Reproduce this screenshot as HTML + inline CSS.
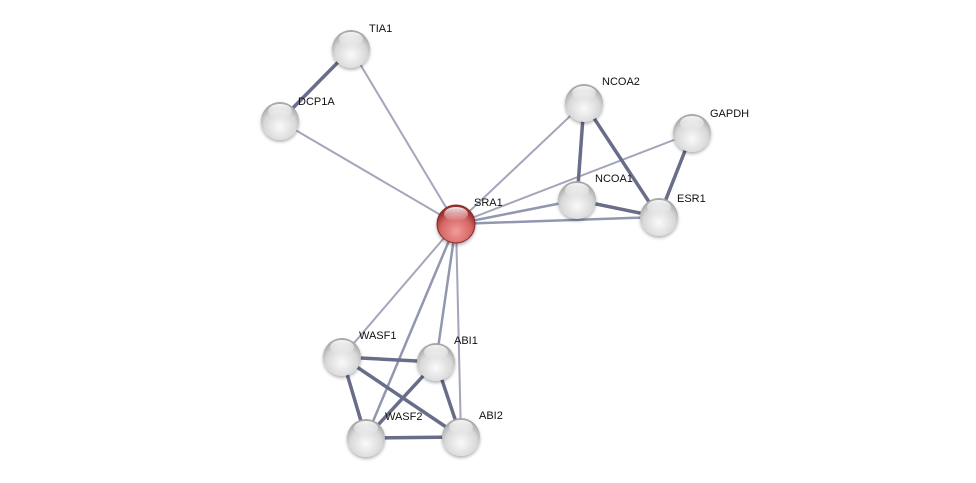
<!DOCTYPE html>
<html><head><meta charset="utf-8"><style>
html,body{margin:0;padding:0;background:#fff;}
svg{display:block;}
text{font-family:"Liberation Sans",sans-serif;font-size:11px;fill:#111;}
</style></head><body>
<svg width="976" height="483" viewBox="0 0 976 483" xmlns="http://www.w3.org/2000/svg">
<defs>
<radialGradient id="g" cx="0.5" cy="0.65" r="0.6">
<stop offset="0" stop-color="#fafafa"/><stop offset="0.7" stop-color="#d8d8d8"/><stop offset="1" stop-color="#a8a8a8"/>
</radialGradient>
<radialGradient id="r" cx="0.5" cy="0.7" r="0.6">
<stop offset="0" stop-color="#f49a9a"/><stop offset="0.7" stop-color="#d36464"/><stop offset="1" stop-color="#9a3030"/>
</radialGradient>
<linearGradient id="h" x1="0" y1="0" x2="0" y2="1">
<stop offset="0" stop-color="#fff" stop-opacity="0.9"/><stop offset="1" stop-color="#fff" stop-opacity="0"/>
</linearGradient>
<filter id="s"><feDropShadow dx="0" dy="2" stdDeviation="1.5" flood-color="#000" flood-opacity="0.3"/></filter>
</defs>
<g stroke-linecap="round">
<g stroke="#a3a6ba" stroke-width="2">
<line x1="456" y1="224" x2="351" y2="49"/>
<line x1="456" y1="224" x2="280" y2="121"/>
<line x1="456" y1="224" x2="584" y2="103"/>
<line x1="456" y1="224" x2="692" y2="133"/>
<line x1="456" y1="224" x2="342" y2="357"/>
<line x1="456" y1="224" x2="461" y2="437"/>
</g>
<g stroke="#9297b0" stroke-width="2.5">
<line x1="456" y1="224" x2="577" y2="200"/>
<line x1="456" y1="224" x2="366" y2="438"/>
<line x1="456" y1="224" x2="436" y2="362"/>
<line x1="456" y1="224" x2="659" y2="217"/>
</g>
<g stroke="#686d8a" stroke-width="3.5">
<line x1="351" y1="49" x2="280" y2="121"/>
<line x1="584" y1="103" x2="577" y2="200"/>
<line x1="584" y1="103" x2="659" y2="217"/>
<line x1="577" y1="200" x2="659" y2="217"/>
<line x1="692" y1="133" x2="659" y2="217"/>
<line x1="342" y1="357" x2="436" y2="362"/>
<line x1="342" y1="357" x2="366" y2="438"/>
<line x1="342" y1="357" x2="461" y2="437"/>
<line x1="436" y1="362" x2="366" y2="438"/>
<line x1="436" y1="362" x2="461" y2="437"/>
<line x1="366" y1="438" x2="461" y2="437"/>
</g>
</g>
<g filter="url(#s)">
<circle cx="351" cy="49" r="19" fill="url(#g)"/>
<circle cx="280" cy="121" r="19" fill="url(#g)"/>
<circle cx="584" cy="103" r="19" fill="url(#g)"/>
<circle cx="692" cy="133" r="19" fill="url(#g)"/>
<circle cx="577" cy="200" r="19" fill="url(#g)"/>
<circle cx="659" cy="217" r="19" fill="url(#g)"/>
<circle cx="456" cy="224" r="19" fill="url(#r)" stroke="#8a2a2a" stroke-width="1"/>
<circle cx="342" cy="357" r="19" fill="url(#g)"/>
<circle cx="436" cy="362" r="19" fill="url(#g)"/>
<circle cx="366" cy="438" r="19" fill="url(#g)"/>
<circle cx="461" cy="437" r="19" fill="url(#g)"/>
</g>
<g fill="url(#h)">
<ellipse cx="351" cy="39" rx="12" ry="7"/>
<ellipse cx="280" cy="111" rx="12" ry="7"/>
<ellipse cx="584" cy="93" rx="12" ry="7"/>
<ellipse cx="692" cy="123" rx="12" ry="7"/>
<ellipse cx="577" cy="190" rx="12" ry="7"/>
<ellipse cx="659" cy="207" rx="12" ry="7"/>
<ellipse cx="456" cy="214" rx="12" ry="7"/>
<ellipse cx="342" cy="347" rx="12" ry="7"/>
<ellipse cx="436" cy="352" rx="12" ry="7"/>
<ellipse cx="366" cy="428" rx="12" ry="7"/>
<ellipse cx="461" cy="427" rx="12" ry="7"/>
</g>
<text x="369" y="32">TIA1</text>
<text x="298" y="105">DCP1A</text>
<text x="602" y="85">NCOA2</text>
<text x="710" y="117">GAPDH</text>
<text x="595" y="182">NCOA1</text>
<text x="677" y="202">ESR1</text>
<text x="474" y="206">SRA1</text>
<text x="359" y="339">WASF1</text>
<text x="454" y="344">ABI1</text>
<text x="385" y="420">WASF2</text>
<text x="479" y="419">ABI2</text>
</svg>
</body></html>
